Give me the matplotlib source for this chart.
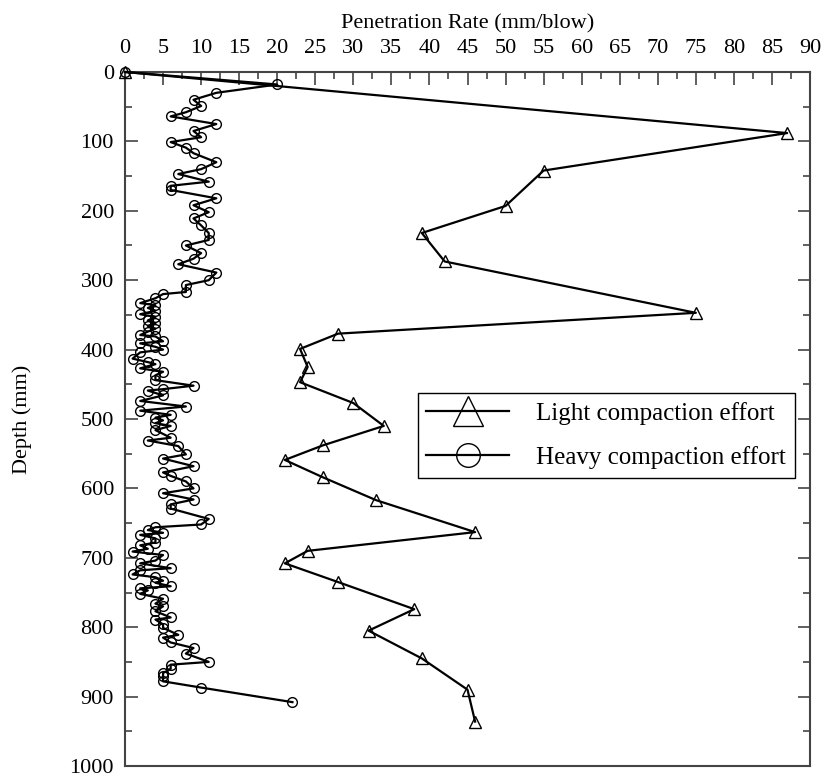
import matplotlib
matplotlib.use('Agg')
import matplotlib.pyplot as plt
from matplotlib.lines import Line2D
from matplotlib.ticker import MultipleLocator

plt.rcParams['font.family'] = ['Liberation Serif', 'DejaVu Serif']
plt.rcParams['font.size'] = 16

# light compaction effort (triangles)
light_rate = [0, 87, 55, 50, 39, 42, 75, 28, 23, 24, 23, 30, 34, 26, 21, 26,
              33, 46, 24, 21, 28, 38, 32, 39, 45, 46]
light_depth = [0, 88, 142, 193, 232, 273, 347, 377, 399, 425, 447, 477, 510,
               538, 559, 584, 617, 663, 690, 708, 735, 774, 805, 845, 890, 936]

# heavy compaction effort (circles)
heavy_rate = [0, 20, 12, 9, 10, 8, 6, 12, 9, 10, 6, 8, 9, 12, 10, 7, 11, 6, 6,
              12, 9, 11, 9, 10, 11, 11, 8, 10, 9, 7, 12, 11, 8, 8, 5, 4, 2,
              4, 3, 4, 2, 4, 3, 4, 3, 4, 3, 2, 4, 5, 2, 4, 5, 2, 1, 3, 4, 2,
              5, 4, 4,
              9, 5, 3, 5, 2, 8, 2, 6, 4, 5, 4, 6, 4, 6, 3, 7, 8, 5, 9, 5, 6, 8,
              9, 5, 9, 6, 6, 11, 10,
              4, 3, 5, 2, 4, 4, 2, 3, 1, 5, 4, 2, 6, 2, 1, 4, 5, 4, 6, 2, 3, 2,
              5, 4, 5, 4, 6, 4, 5, 5, 7, 5, 6, 9, 8, 11, 6, 6, 5, 5, 5, 10, 22]
heavy_depth = [0, 18, 30, 40, 49, 58, 64, 75, 85, 94, 101, 109, 117, 130, 140,
               147, 158, 164, 170, 182, 192, 202, 211, 221, 232, 242, 250, 261,
               269, 277, 289, 300, 307, 317, 320, 326, 333,
               336, 340, 344, 349, 353, 358, 362, 366, 370, 374, 379, 381, 388,
               391, 396, 400, 404, 413, 418, 421, 427, 432, 437, 444,
               452, 457, 459, 466, 474, 482, 488, 494, 498, 502, 506, 510, 516,
               527, 531, 539, 551, 557, 568, 577, 582, 590, 600, 607, 616, 623,
               629, 644, 652,
               656, 660, 664, 667, 672, 678, 682, 687, 691, 696, 704, 708, 715,
               718, 724, 728, 733, 736, 741, 744, 747, 752, 759, 766, 770, 777,
               786, 789, 796, 801, 811, 815, 822, 830, 838, 850, 854, 860, 866,
               871, 878, 887, 908]

labels = ['Light compaction effort', 'Heavy compaction effort']

fig = plt.figure(figsize=(8.26, 7.78), dpi=100)
ax = fig.add_axes([125 / 826, 12 / 778, 685 / 826, 694 / 778])

ax.plot(light_rate, light_depth, color='black', lw=1.6, marker='^',
        ms=9, mfc='none', mec='black', mew=1.0, clip_on=False, zorder=3)
ax.plot(heavy_rate, heavy_depth, color='black', lw=1.6, marker='o',
        ms=7, mfc='none', mec='black', mew=1.0, clip_on=False, zorder=3)

ax.set_xlim(0, 90)
ax.set_ylim(1000, 0)
ax.xaxis.tick_top()
ax.xaxis.set_label_position('top')
ax.xaxis.set_major_locator(MultipleLocator(5))
ax.xaxis.set_minor_locator(MultipleLocator(2.5))
ax.yaxis.set_major_locator(MultipleLocator(100))
ax.yaxis.set_minor_locator(MultipleLocator(50))
ax.tick_params(which='both', direction='in', top=True, bottom=False,
               left=True, right=True, labelright=False, labelbottom=False,
               color='#444444', width=1.2)
ax.tick_params(which='major', length=9)
ax.tick_params(which='minor', length=5)
ax.tick_params(axis='x', which='major', pad=10)
ax.tick_params(axis='y', which='major', pad=8)
for s in ax.spines.values():
    s.set_color('#444444')
    s.set_linewidth(1.5)

ax.set_xlabel('Penetration Rate (mm/blow)')
ax.set_ylabel('Depth (mm)')
ax.xaxis.set_label_coords(0.5, 1.062)
ax.yaxis.set_label_coords(-0.136, 0.5)

handles = [
    Line2D([], [], color='black', lw=1.6, marker='^', ms=21, mfc='none',
           mec='black', mew=1.0),
    Line2D([], [], color='black', lw=1.6, marker='o', ms=17, mfc='none',
           mec='black', mew=1.0),
]
leg = ax.legend(handles, labels, loc='upper right',
                bbox_to_anchor=(0.978, 0.5375), borderaxespad=0,
                fontsize=18, frameon=True, fancybox=False, framealpha=1,
                edgecolor='black', handlelength=3.3, handletextpad=1.1,
                labelspacing=0.85, borderpad=0.35)
leg.get_frame().set_linewidth(1.0)

fig.savefig('out.png', dpi=100)
